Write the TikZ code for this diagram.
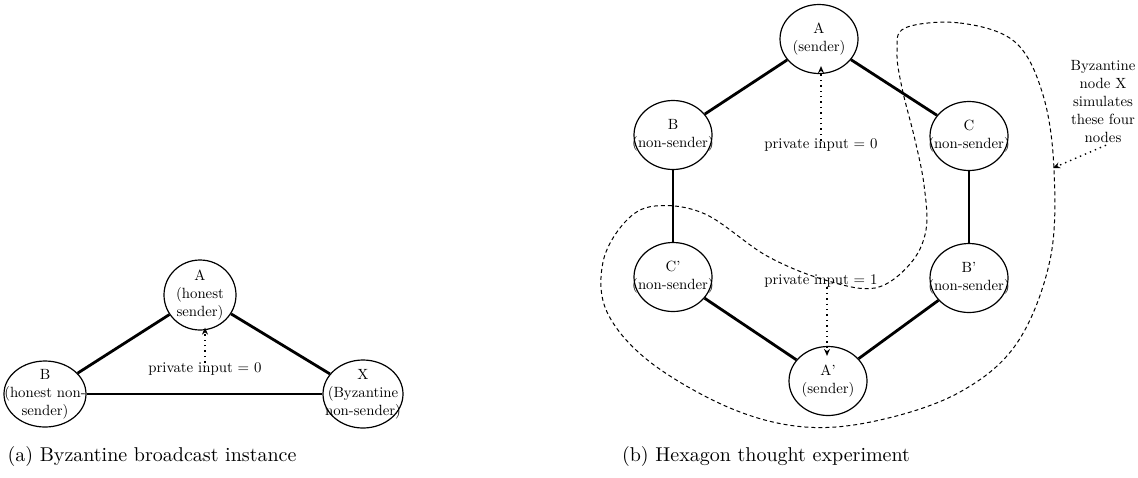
\documentclass[tikz,border=0pt]{standalone}
\usepackage{amsmath}
\usepackage{amssymb}
\usepackage{fontspec}
\usepackage{tikz}
\usetikzlibrary{shapes.geometric,arrows.meta}
\newfontfamily\tenrm[Ligatures=TeX]{lmroman10-regular.otf}

\begin{document}
\begin{tikzpicture}[x=0.5pt,y=0.5pt,yscale=-1,
  proc/.style={draw, ellipse, line width=0.6pt, fill=white, minimum width=39pt, minimum height=34.5pt, inner sep=0pt},
  link/.style={line width=1.4pt},
  inarrow/.style={dotted, line width=0.7pt, -{Stealth[length=3.5pt,width=3pt]}},
  small/.style={font=\tenrm\fontsize{7.4}{9}\selectfont, align=center}]
\useasboundingbox (0,0) rectangle (1138,477);

%Shape: Dashed boundary round the simulated nodes
\draw [dashed, dash pattern=on 2pt off 1.5pt, line width=0.5pt] plot [smooth cycle, tension=0.6] coordinates {(905,28) (960,23) (1015,42) (1043,95) (1054,170) (1050,260) (1017,343) (960,392) (880,420) (805,427) (730,408) (650,362) (607,312) (603,262) (625,222) (655,206) (705,214) (767,256) (825,280) (875,288) (910,264) (926,230) (924,185) (915,140) (902,88) (897,52)};
\coordinate (hit) at (1053,168);

%Shape: Ellipses of panel (a)
\node [proc, minimum width=36pt, minimum height=35pt, label={[small]center:{A\\(honest\\sender)}}] (a) at (200,295) {};
\node [proc, minimum width=41pt, minimum height=33pt, label={[small]center:{B\\(honest non-\\sender)}}] (b) at (45,394) {};
\node [proc, minimum width=40pt, minimum height=34pt, label={[small]center:{X\\(Byzantine\\non-sender)}}] (x) at (363,394) {};

%Straight Lines of panel (a)
\draw [link] (a) -- (b);
\draw [link] (a) -- (x);
\draw [link] (b) -- (x);

% Text Node
\node [small] (in0) at (205,369) {private input = 0};
\draw [inarrow] ([yshift=3.5pt]in0.north) -- ([yshift=-1.5pt]in0.north |- a.south);

%Shape: Ellipses of panel (b)
\node [proc, label={[small]center:{A\\(sender)}}] (ha) at (819,39) {};
\node [proc, label={[small]center:{B\\(non-sender)}}] (hb) at (673,135) {};
\node [proc, label={[small]center:{C\\(non-sender)}}] (hc) at (969,136) {};
\node [proc, label={[small]center:{C'\\(non-sender)}}] (hc2) at (673,277) {};
\node [proc, label={[small]center:{B'\\(non-sender)}}] (hb2) at (969,278) {};
\node [proc, label={[small]center:{A'\\(sender)}}] (ha2) at (828,381) {};

%Straight Lines of panel (b)
\draw [link] (ha) -- (hb);
\draw [link] (ha) -- (hc);
\draw [link] (hb) -- (hc2);
\draw [link] (hc) -- (hb2);
\draw [link] (hc2) -- (ha2);
\draw [link] (hb2) -- (ha2);

% Text Node
\node [small] (hin0) at (821,145) {private input = 0};
\draw [inarrow] ([yshift=4.5pt]hin0.north) -- ([yshift=-4pt]hin0.north |- ha.south);
% Text Node
\node [small] (hin1) at (821,281) {private input = 1};
\draw [inarrow] ([xshift=3pt,yshift=-3.5pt]hin1.south) -- ([xshift=3pt,yshift=5pt]hin1.south |- ha2.north);
% Text Node
\node [small] (note) at (1103,102) {Byzantine\\node X\\simulates\\these four\\nodes};
\draw [inarrow] ([xshift=1.5pt,yshift=-2.5pt]note.south) -- (hit);

% Captions
\node (capa) at (152,456) {(a) Byzantine broadcast instance};
\node (capb) at (766,456) {(b) Hexagon thought experiment};
\end{tikzpicture}
\end{document}
